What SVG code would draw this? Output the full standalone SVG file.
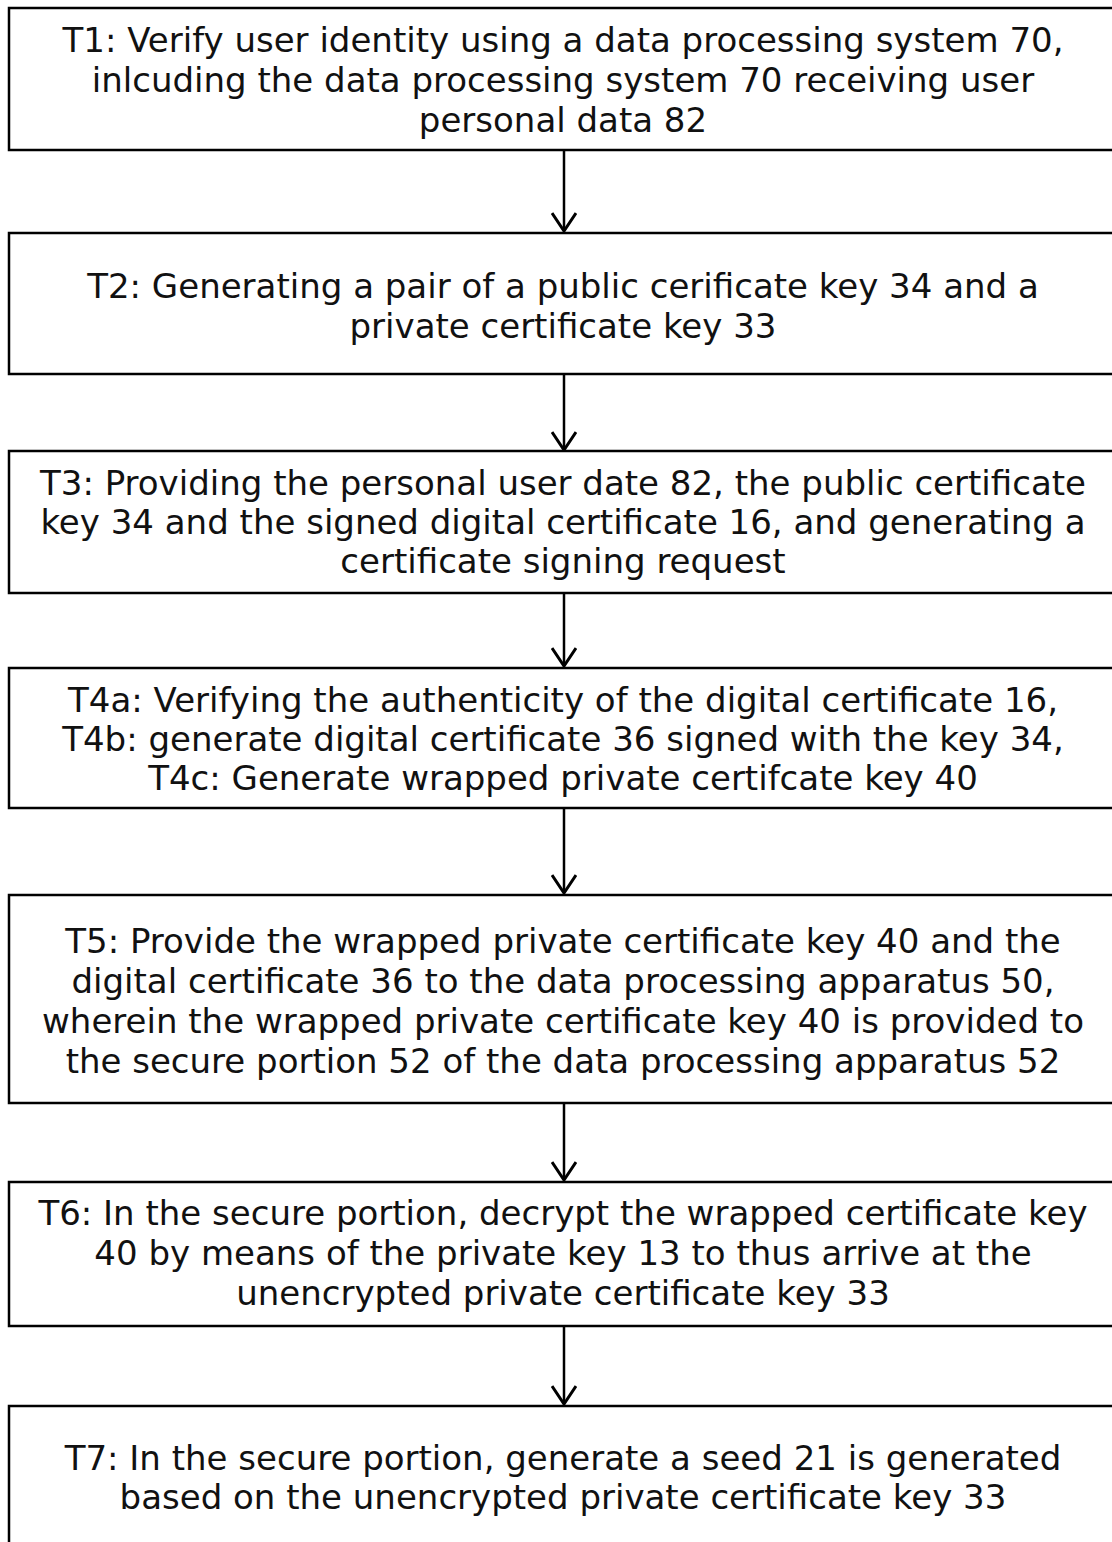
<svg xmlns="http://www.w3.org/2000/svg" width="1112" height="1542" viewBox="0 0 1112 1542">
  <style>
    .box { fill: #ffffff; stroke: #000000; stroke-width: 2.5; }
    .lbl { font-family: "DejaVu Sans", Verdana, sans-serif; font-size: 34px; fill: #111111; text-anchor: middle; }
    .conn { stroke: #000000; stroke-width: 2.5; fill: none; }
  </style>
  <defs>
    <!-- open V arrowhead, drawn along +x so orient="auto" turns it down the line -->
    <marker id="arrow" markerWidth="22" markerHeight="26" refX="20" refY="13" orient="auto" markerUnits="userSpaceOnUse" viewBox="0 0 22 26">
      <path d="M2,1 L20,13 L2,25" fill="none" stroke="#000000" stroke-width="3"/>
    </marker>
  </defs>
  <rect x="0" y="0" width="1112" height="1542" fill="#ffffff"/>

  <g id="connectors">
    <path class="conn" d="M564,150 L564,231" marker-end="url(#arrow)"/>
    <path class="conn" d="M564,374 L564,450" marker-end="url(#arrow)"/>
    <path class="conn" d="M564,593 L564,666" marker-end="url(#arrow)"/>
    <path class="conn" d="M564,808 L564,893" marker-end="url(#arrow)"/>
    <path class="conn" d="M564,1103 L564,1180" marker-end="url(#arrow)"/>
    <path class="conn" d="M564,1326 L564,1404" marker-end="url(#arrow)"/>
  </g>

  <g id="T1">
    <rect class="box" x="9" y="8" width="1120" height="142"/>
    <text class="lbl" x="563" y="52">T1: Verify user identity using a data processing system 70,</text>
    <text class="lbl" x="563" y="92">inlcuding the data processing system 70 receiving user</text>
    <text class="lbl" x="563" y="132">personal data 82</text>
  </g>

  <g id="T2">
    <rect class="box" x="9" y="233" width="1120" height="141"/>
    <text class="lbl" x="563" y="298">T2: Generating a pair of a public cerificate key 34 and a</text>
    <text class="lbl" x="563" y="338">private certificate key 33</text>
  </g>

  <g id="T3">
    <rect class="box" x="9" y="451" width="1120" height="142"/>
    <text class="lbl" x="563" y="495">T3: Providing the personal user date 82, the public certificate</text>
    <text class="lbl" x="563" y="534">key 34 and the signed digital certificate 16, and generating a</text>
    <text class="lbl" x="563" y="573">certificate signing request</text>
  </g>

  <g id="T4">
    <rect class="box" x="9" y="668" width="1120" height="140"/>
    <text class="lbl" x="563" y="712">T4a: Verifying the authenticity of the digital certificate 16,</text>
    <text class="lbl" x="563" y="751">T4b: generate digital certificate 36 signed with the key 34,</text>
    <text class="lbl" x="563" y="790">T4c: Generate wrapped private certifcate key 40</text>
  </g>

  <g id="T5">
    <rect class="box" x="9" y="895" width="1120" height="208"/>
    <text class="lbl" x="563" y="953">T5: Provide the wrapped private certificate key 40 and the</text>
    <text class="lbl" x="563" y="993">digital certificate 36 to the data processing apparatus 50,</text>
    <text class="lbl" x="563" y="1033">wherein the wrapped private certificate key 40 is provided to</text>
    <text class="lbl" x="563" y="1073">the secure portion 52 of the data processing apparatus 52</text>
  </g>

  <g id="T6">
    <rect class="box" x="9" y="1182" width="1120" height="144"/>
    <text class="lbl" x="563" y="1225">T6: In the secure portion, decrypt the wrapped certificate key</text>
    <text class="lbl" x="563" y="1265">40 by means of the private key 13 to thus arrive at the</text>
    <text class="lbl" x="563" y="1305">unencrypted private certificate key 33</text>
  </g>

  <g id="T7">
    <rect class="box" x="9" y="1406" width="1120" height="160"/>
    <text class="lbl" x="563" y="1470">T7: In the secure portion, generate a seed 21 is generated</text>
    <text class="lbl" x="563" y="1509">based on the unencrypted private certificate key 33</text>
  </g>
</svg>
